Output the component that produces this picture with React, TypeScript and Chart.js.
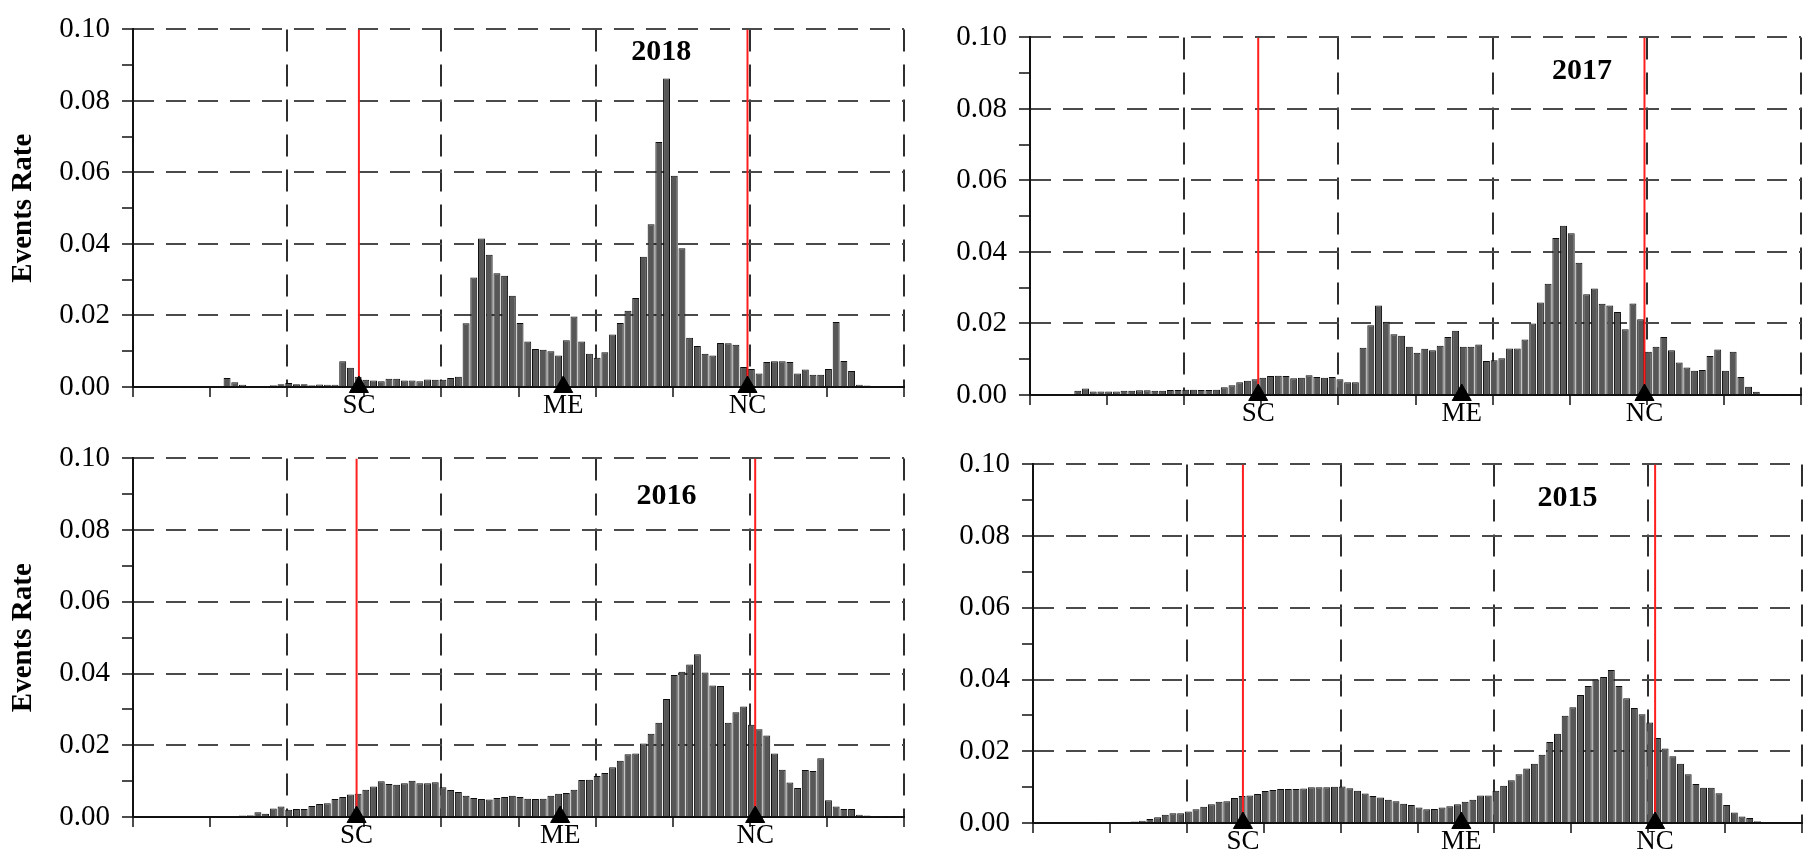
import React, { useEffect, useRef } from 'react';
import { Chart, registerables } from 'chart.js';

Chart.register(...registerables);

const FONT = "'Liberation Serif', 'Times New Roman', serif";
Chart.defaults.font.family = FONT;

// 100 bins of width 0.1 along the 0..10 axis
const binCenters: number[] = Array.from({ length: 100 }, (_, k) => Math.round((k * 0.1 + 0.02) * 100) / 100);

const rate2018 = [
  0, 0, 0, 0, 0, 0, 0.0002, 0.0002, 0.0002, 0.0002,
  0.0002, 0.0002, 0.0025, 0.0013, 0.0006, 0.0003, 0.0003, 0.0003, 0.0005, 0.0008,
  0.0011, 0.0008, 0.0008, 0.0005, 0.0007, 0.0006, 0.0006, 0.0072, 0.0054, 0.0029,
  0.002, 0.0018, 0.0016, 0.0023, 0.0023, 0.0018, 0.0018, 0.0016, 0.0021, 0.002,
  0.002, 0.0025, 0.0029, 0.0178, 0.0306, 0.0415, 0.037, 0.0318, 0.0311, 0.0255,
  0.0179, 0.0127, 0.0106, 0.0104, 0.01, 0.0088, 0.0131, 0.0197, 0.0127, 0.0093,
  0.0082, 0.0097, 0.0147, 0.0179, 0.0213, 0.0249, 0.0364, 0.0455, 0.0685, 0.0863,
  0.0591, 0.0388, 0.0138, 0.0115, 0.0093, 0.0088, 0.0123, 0.0122, 0.0118, 0.0056,
  0.005, 0.0038, 0.007, 0.0072, 0.0072, 0.007, 0.0038, 0.0049, 0.0034, 0.0034,
  0.005, 0.0182, 0.0073, 0.0045, 0.0006, 0.0004, 0, 0, 0, 0,
];

const rate2017 = [
  0, 0, 0, 0, 0, 0, 0.0012, 0.0018, 0.001, 0.001,
  0.001, 0.001, 0.0012, 0.0012, 0.0013, 0.0013, 0.0012, 0.0012, 0.0014, 0.0014,
  0.0015, 0.0015, 0.0014, 0.0014, 0.0015, 0.0022, 0.0027, 0.0036, 0.004, 0.0044,
  0.0048, 0.0053, 0.0054, 0.0053, 0.0047, 0.0048, 0.0055, 0.005, 0.0048, 0.005,
  0.0044, 0.0036, 0.0036, 0.0132, 0.0195, 0.025, 0.0205, 0.017, 0.0166, 0.0135,
  0.0118, 0.0129, 0.0125, 0.0138, 0.0162, 0.018, 0.0135, 0.0135, 0.0141, 0.0095,
  0.0097, 0.0103, 0.013, 0.013, 0.0155, 0.02, 0.0259, 0.0311, 0.0439, 0.0473,
  0.0452, 0.037, 0.0282, 0.0298, 0.0255, 0.025, 0.0232, 0.0184, 0.0256, 0.0212,
  0.0121, 0.0135, 0.0162, 0.0125, 0.0091, 0.0077, 0.0068, 0.007, 0.0109, 0.0127,
  0.0068, 0.0121, 0.005, 0.0023, 0.0009, 0.0003, 0.0002, 0.0002, 0.0002, 0.0002,
];

const rate2016 = [
  0, 0, 0, 0, 0, 0, 0.0003, 0.0003, 0.0003, 0.0003,
  0.0003, 0.0003, 0.0003, 0.0003, 0.0004, 0.0005, 0.0013, 0.0009, 0.0024, 0.0029,
  0.002, 0.0022, 0.0022, 0.0031, 0.0036, 0.0038, 0.005, 0.0056, 0.0063, 0.0065,
  0.0076, 0.0085, 0.01, 0.0092, 0.009, 0.0094, 0.0101, 0.0094, 0.0094, 0.0097,
  0.0083, 0.0075, 0.007, 0.0059, 0.0053, 0.005, 0.0049, 0.0053, 0.0056, 0.0059,
  0.0056, 0.0051, 0.005, 0.0051, 0.0059, 0.0065, 0.0067, 0.0076, 0.0103, 0.0104,
  0.0114, 0.0123, 0.0139, 0.0157, 0.0175, 0.0177, 0.0205, 0.0232, 0.0263, 0.0329,
  0.0396, 0.0405, 0.0425, 0.0454, 0.0403, 0.0367, 0.0365, 0.0263, 0.0292, 0.0308,
  0.0257, 0.0245, 0.0227, 0.0177, 0.0132, 0.0096, 0.0081, 0.0131, 0.0128, 0.0164,
  0.0047, 0.0029, 0.0022, 0.0022, 0.0006, 0.0004, 0.0002, 0.0002, 0.0002, 0.0002,
];

const rate2015 = [
  0, 0, 0, 0, 0, 0, 0, 0, 0, 0.0001,
  0.0002, 0.0002, 0.0003, 0.0004, 0.0006, 0.0011, 0.0016, 0.0023, 0.0027, 0.0027,
  0.0032, 0.0038, 0.0045, 0.0052, 0.0059, 0.0061, 0.007, 0.0075, 0.0077, 0.0081,
  0.0089, 0.0092, 0.0095, 0.0095, 0.0095, 0.0096, 0.01, 0.01, 0.01, 0.0101,
  0.0102, 0.0097, 0.009, 0.0082, 0.0075, 0.0071, 0.0065, 0.0061, 0.0054, 0.005,
  0.0043, 0.0038, 0.0039, 0.0043, 0.0047, 0.0052, 0.0059, 0.0065, 0.0077, 0.0077,
  0.009, 0.0104, 0.0119, 0.0136, 0.0152, 0.0165, 0.019, 0.0226, 0.0249, 0.0299,
  0.0323, 0.0357, 0.0382, 0.04, 0.0407, 0.0427, 0.0382, 0.0348, 0.0321, 0.0303,
  0.028, 0.0237, 0.0208, 0.0186, 0.0165, 0.0136, 0.0109, 0.0098, 0.0098, 0.0083,
  0.005, 0.0029, 0.0018, 0.0014, 0.0005, 0.0002, 0, 0, 0, 0,
];

const markerNames = ['SC', 'ME', 'NC'];
const markers2018 = [2.93, 5.58, 7.97];
const markers2017 = [2.96, 5.6, 7.97];
const markers2016 = [2.9, 5.54, 8.07];
const markers2015 = [2.73, 5.57, 8.09];

const yearLabels = ['2018', '2017', '2016', '2015'];
const yAxisTitle = 'Events Rate';

type Box = { l: number; t: number; r: number; b: number };
type PanelSpec = {
  year: string;
  values: number[];
  markers: number[];
  titleAt: [number, number];
  box: Box;
  canvasLeft: number;
  showYTitle: boolean;
};

const panels: PanelSpec[] = [
  { year: yearLabels[0], values: rate2018, markers: markers2018, titleAt: [6.85, 0.0937], box: { l: 133, t: 20, r: 908, b: 387 }, canvasLeft: 0, showYTitle: true },
  { year: yearLabels[1], values: rate2017, markers: markers2017, titleAt: [7.16, 0.0905], box: { l: 1030, t: 28, r: 1805, b: 395 }, canvasLeft: 915, showYTitle: false },
  { year: yearLabels[2], values: rate2016, markers: markers2016, titleAt: [6.92, 0.0894], box: { l: 133, t: 449, r: 908, b: 817 }, canvasLeft: 0, showYTitle: true },
  { year: yearLabels[3], values: rate2015, markers: markers2015, titleAt: [6.95, 0.0905], box: { l: 1033, t: 455, r: 1806, b: 823 }, canvasLeft: 915, showYTitle: false },
];

const PAD_TOP = 20;
const PAD_RIGHT = 8;
const X2_H = 42;

function Panel({ spec }: { spec: PanelSpec }) {
  const ref = useRef<HTMLCanvasElement>(null);
  const yw = spec.box.l - spec.canvasLeft;
  const width = spec.box.r - spec.canvasLeft + PAD_RIGHT;
  const height = PAD_TOP + (spec.box.b - spec.box.t) + X2_H;
  const top = spec.box.t - PAD_TOP;

  useEffect(() => {
    const canvas = ref.current;
    if (!canvas) return;

    const yearPlugin = {
      id: 'yearLabel',
      afterDraw(chart: any) {
        const { ctx, scales } = chart;
        ctx.save();
        ctx.font = `bold 30px ${FONT}`;
        ctx.fillStyle = '#000';
        ctx.textAlign = 'center';
        ctx.textBaseline = 'middle';
        ctx.fillText(
          spec.year,
          scales.x.getPixelForValue(spec.titleAt[0]),
          scales.y.getPixelForValue(spec.titleAt[1])
        );
        ctx.restore();
      },
    };

    const redLine = (v: number) => ({
      type: 'line' as const,
      data: [
        { x: v, y: 0 },
        { x: v, y: 0.1 },
      ],
      borderColor: '#ff1f1f',
      borderWidth: 2,
      pointRadius: 0,
      fill: false,
      order: 2,
    });

    const chart = new Chart(canvas, {
      type: 'bar',
      data: {
        datasets: [
          {
            type: 'scatter',
            data: spec.markers.map((m) => ({ x: m, y: 0 })),
            pointStyle: 'triangle',
            pointRadius: 11,
            backgroundColor: '#000',
            borderColor: '#000',
            borderWidth: 1,
            clip: false,
            order: 1,
          } as any,
          redLine(spec.markers[0]) as any,
          redLine(spec.markers[2]) as any,
          {
            type: 'bar',
            data: binCenters.map((x, i) => ({ x, y: spec.values[i] })),
            backgroundColor: '#575757',
            borderColor: '#0d0d0d',
            borderWidth: 1,
            barPercentage: 0.9,
            categoryPercentage: 1,
            order: 3,
          } as any,
        ],
      },
      options: {
        animation: false,
        responsive: false,
        maintainAspectRatio: false,
        events: [],
        layout: { padding: { top: PAD_TOP, right: PAD_RIGHT, left: 0, bottom: 0 } },
        plugins: {
          legend: { display: false },
          tooltip: { enabled: false },
          title: { display: false },
        },
        scales: {
          x: {
            type: 'linear',
            position: 'bottom',
            min: 0,
            max: 10,
            offset: false,
            ticks: { stepSize: 1, display: false, autoSkip: false },
            grid: {
              offset: false,
              drawTicks: true,
              tickLength: 10,
              lineWidth: 2,
              color: (c: any) => {
                if (!c.tick) return 'rgba(0,0,0,0)';
                const n = Math.round(c.tick.value);
                return n > 0 && n % 2 === 0 ? '#2e2e2e' : 'rgba(0,0,0,0)';
              },
              tickColor: '#111',
              tickWidth: 1.5,
            },
            border: { display: true, color: '#111', width: 2, dash: [22, 13] },
            afterFit: (s: any) => {
              s.height = 0;
            },
          },
          x2: {
            type: 'linear',
            position: 'bottom',
            min: 0,
            max: 10,
            offset: false,
            grid: { display: false, drawTicks: false, drawOnChartArea: false },
            border: { display: false },
            afterBuildTicks: (s: any) => {
              s.ticks = spec.markers.map((v) => ({ value: v }));
            },
            ticks: {
              autoSkip: false,
              maxRotation: 0,
              padding: 3,
              color: '#000',
              font: { family: FONT, size: 27 },
              callback: (_v: any, i: number) => markerNames[i],
            },
            afterFit: (s: any) => {
              s.height = X2_H;
            },
          },
          y: {
            type: 'linear',
            position: 'left',
            min: 0,
            max: 0.1,
            ticks: {
              stepSize: 0.01,
              autoSkip: false,
              padding: 12,
              color: '#000',
              font: { family: FONT, size: 29 },
              callback: (v: any) => (Math.round(Number(v) * 100) % 2 === 0 ? Number(v).toFixed(2) : ''),
            },
            grid: {
              lineWidth: 2,
              tickLength: 11,
              color: (c: any) => {
                if (!c.tick) return 'rgba(0,0,0,0)';
                const n = Math.round(c.tick.value * 100);
                return n > 0 && n % 2 === 0 ? '#4a4a4a' : 'rgba(0,0,0,0)';
              },
              tickColor: '#111',
              tickWidth: 1.5,
            },
            border: { display: true, color: '#111', width: 2, dash: [20, 12] },
            title: {
              display: spec.showYTitle,
              text: yAxisTitle,
              color: '#000',
              font: { family: FONT, size: 29, weight: 'bold' },
              padding: { top: 6, bottom: 0 },
            },
            afterFit: (s: any) => {
              s.width = yw;
            },
          },
        },
      } as any,
      plugins: [yearPlugin],
    });

    return () => chart.destroy();
  }, [spec]);

  return (
    <canvas
      ref={ref}
      width={width}
      height={height}
      style={{ position: 'absolute', left: spec.canvasLeft, top, width, height }}
    />
  );
}

export default function App() {
  return (
    <div
      style={{
        position: 'fixed',
        left: 0,
        top: 0,
        width: 1814,
        height: 855,
        background: '#fff',
        overflow: 'hidden',
      }}
    >
      {panels.map((p) => (
        <Panel key={p.year} spec={p} />
      ))}
    </div>
  );
}
